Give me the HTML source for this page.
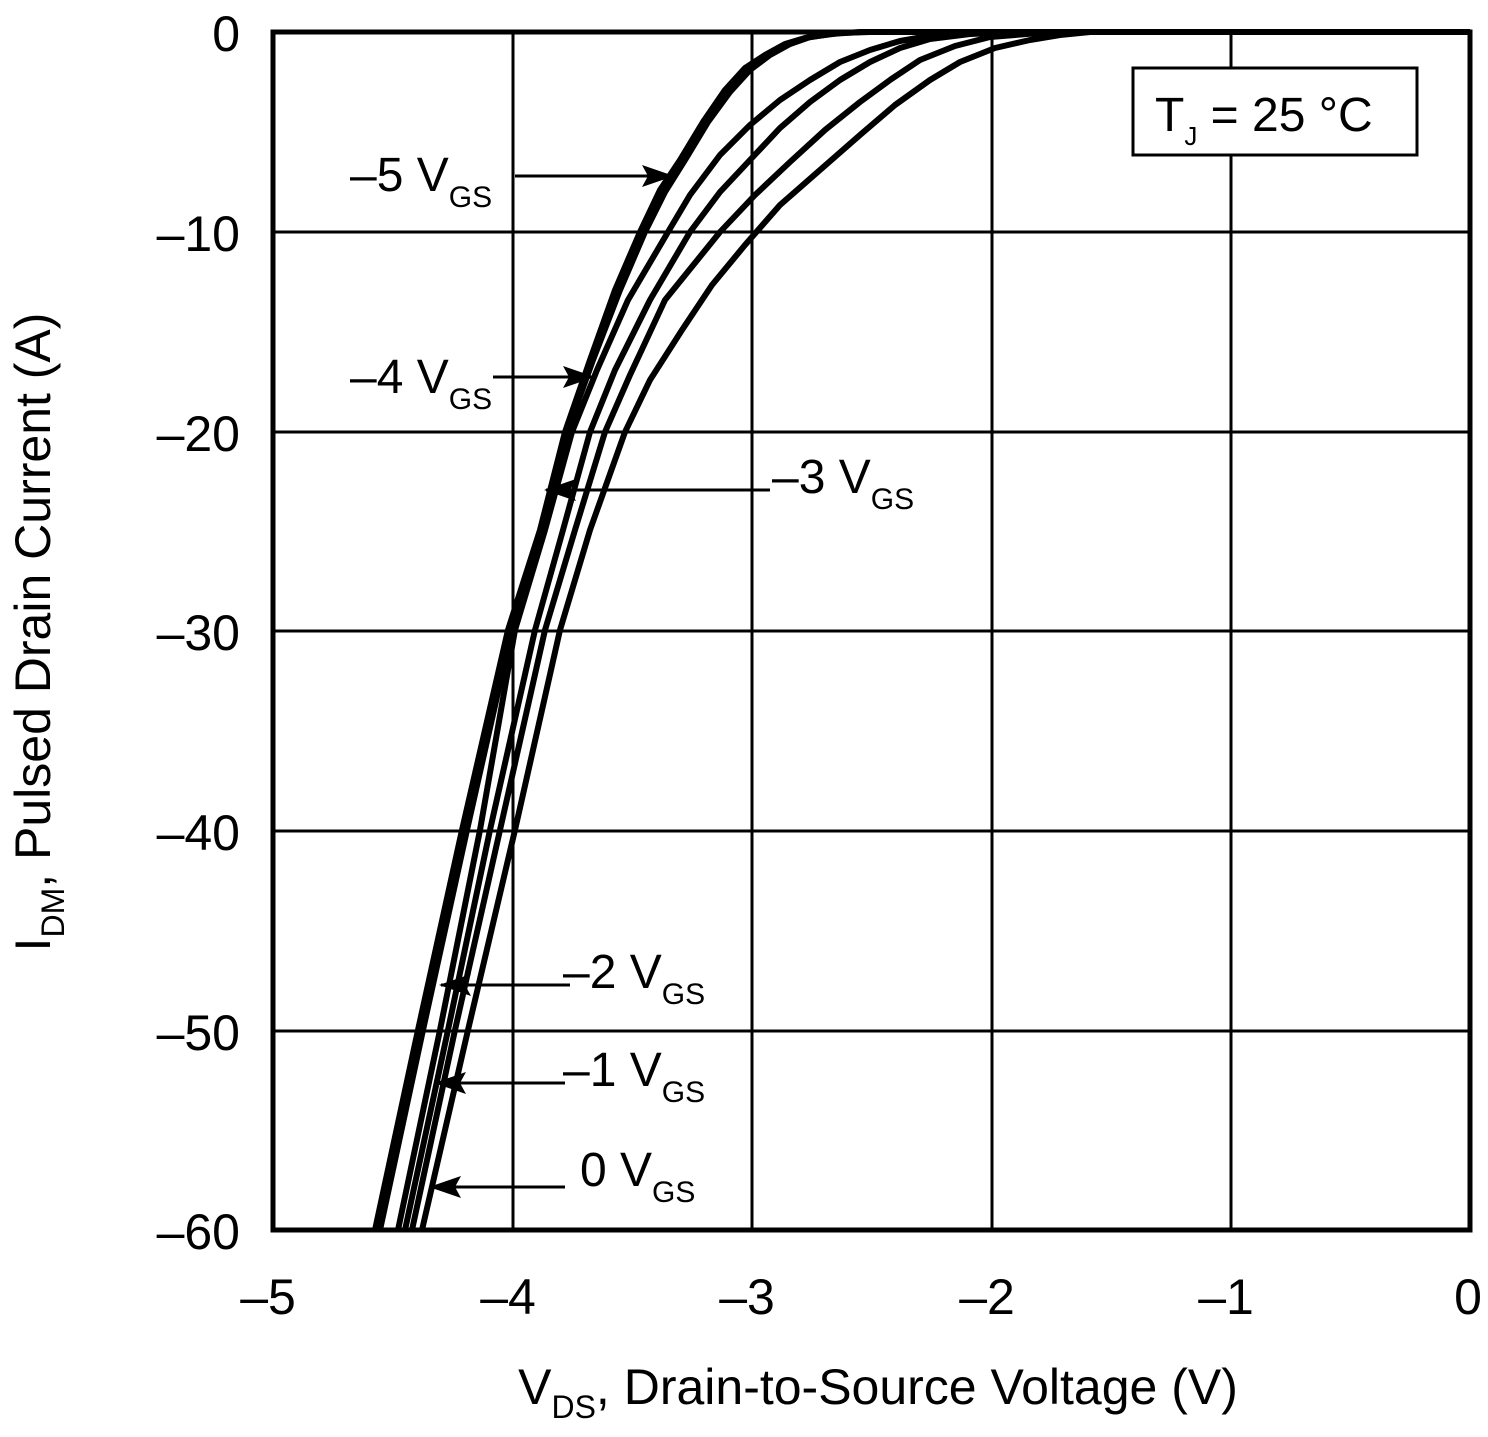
<!DOCTYPE html>
<html><head><style>body{margin:0;background:#fff}svg{display:block}text{font-family:"Liberation Sans",sans-serif;fill:#000}</style></head><body>
<svg width="1488" height="1437" viewBox="0 0 1488 1437" xmlns="http://www.w3.org/2000/svg">
<defs><marker id="ah" markerWidth="32" markerHeight="22" refX="30" refY="11" orient="auto" markerUnits="userSpaceOnUse" viewBox="0 0 32 22"><path d="M0,0 L32,11 L0,22 L6,11z" fill="#000"/></marker></defs>
<g stroke="#000" stroke-width="3" fill="none">
<line x1="513" y1="32" x2="513" y2="1230"/><line x1="752" y1="32" x2="752" y2="1230"/><line x1="992" y1="32" x2="992" y2="1230"/><line x1="1231" y1="32" x2="1231" y2="1230"/>
<line x1="273" y1="232" x2="1470" y2="232"/><line x1="273" y1="432" x2="1470" y2="432"/><line x1="273" y1="631" x2="1470" y2="631"/><line x1="273" y1="831" x2="1470" y2="831"/><line x1="273" y1="1031" x2="1470" y2="1031"/>
</g>
<rect x="273" y="32" width="1197" height="1198" fill="none" stroke="#000" stroke-width="5"/>
<g stroke="#000" stroke-width="6" fill="none" stroke-linejoin="round">
<polyline points="375,1230 418,1030 462,830 508,630 540,530 565,432 590,360 615,290 640,232 660,190 680,160 703,122 725,90 745,68 765,55 785,44 805,38 830,34 860,32 1470,32"/>
<polyline points="380,1230 423,1030 467,830 512,630 542,530 567,432 593,360 620,290 645,232 665,192 685,160 708,122 730,92 750,70 770,55 790,44 810,37 840,33 870,32"/>
<polyline points="398,1230 440,1030 480,830 515,630 545,530 572,432 597,370 628,300 668,232 690,195 720,155 750,125 780,100 810,80 840,62 870,50 900,41 940,34 980,32"/>
<polyline points="405,1230 448,1030 490,830 535,630 563,530 590,432 615,370 650,300 690,232 720,192 750,160 780,128 810,102 840,80 870,62 900,48 930,39 970,34 1020,32"/>
<polyline points="412,1230 455,1030 500,830 545,630 575,530 605,432 630,375 665,300 720,232 755,195 790,162 825,130 860,102 890,80 920,60 955,46 990,37 1040,33 1090,32"/>
<polyline points="422,1230 468,1030 515,830 560,630 590,530 625,432 650,380 682,330 712,285 745,245 780,205 820,170 860,135 895,105 930,80 960,62 995,48 1030,40 1060,35 1090,32"/>
</g>
<g stroke="#000" stroke-width="3" marker-end="url(#ah)">
<line x1="515" y1="176" x2="672" y2="176"/><line x1="493" y1="377" x2="593" y2="377"/><line x1="770" y1="490" x2="546" y2="490"/><line x1="570" y1="985" x2="441" y2="985"/><line x1="565" y1="1083" x2="436" y2="1083"/><line x1="565" y1="1187" x2="431" y2="1187"/>
</g>
<g font-size="48">
<text x="350" y="191">–5 V<tspan font-size="30" dy="16">GS</tspan></text>
<text x="350" y="393">–4 V<tspan font-size="30" dy="16">GS</tspan></text>
<text x="772" y="493">–3 V<tspan font-size="30" dy="16">GS</tspan></text>
<text x="563" y="988">–2 V<tspan font-size="30" dy="16">GS</tspan></text>
<text x="563" y="1086">–1 V<tspan font-size="30" dy="16">GS</tspan></text>
<text x="580" y="1186">0 V<tspan font-size="30" dy="16">GS</tspan></text>
</g>
<rect x="1133" y="68" width="284" height="87" fill="#fff" stroke="#000" stroke-width="3"/>
<text x="1155" y="131" font-size="48">T<tspan font-size="26" dy="14">J</tspan><tspan dy="-14"> = 25 °C</tspan></text>
<g font-size="50" text-anchor="end">
<text x="240" y="51">0</text><text x="240" y="251">–10</text><text x="240" y="451">–20</text><text x="240" y="650">–30</text><text x="240" y="850">–40</text><text x="240" y="1050">–50</text><text x="240" y="1249">–60</text>
</g>
<g font-size="50" text-anchor="middle">
<text x="268" y="1314">–5</text><text x="508" y="1314">–4</text><text x="747" y="1314">–3</text><text x="987" y="1314">–2</text><text x="1226" y="1314">–1</text><text x="1468" y="1314">0</text>
</g>
<text x="878" y="1404" font-size="50" text-anchor="middle">V<tspan font-size="32" dy="14">DS</tspan><tspan dy="-14">, Drain-to-Source Voltage (V)</tspan></text>
<text transform="translate(50,632) rotate(-90)" font-size="50" text-anchor="middle">I<tspan font-size="32" dy="14">DM</tspan><tspan dy="-14">, Pulsed Drain Current (A)</tspan></text>
</svg>
</body></html>
